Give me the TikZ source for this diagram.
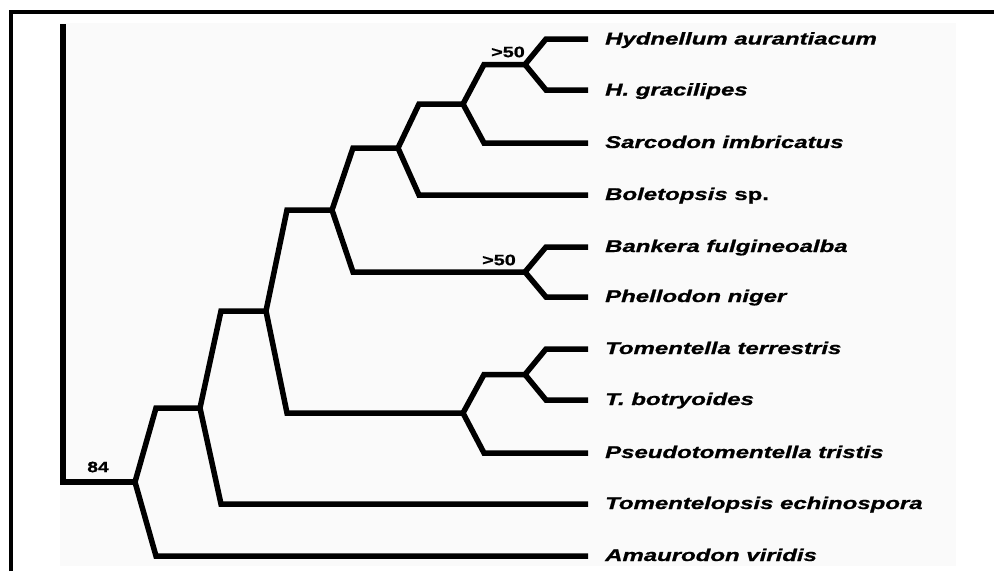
\documentclass[tikz,border=0pt]{standalone}
\usepackage{fontspec}
\setmainfont{Liberation Sans}
\newfontfamily\heavysans{Liberation Sans}[BoldFeatures={FakeBold=0.8},BoldItalicFeatures={FakeBold=0.8}]
\usetikzlibrary{calc}
\definecolor{panel}{HTML}{FAFAFA}
\tikzset{
  every picture/.style={line join=miter, line cap=butt},
  branch/.style={line width=5.5pt},
  frame/.style={line width=4pt},
  taxon/.style={anchor=base west, inner sep=0pt, font=\heavysans\fontsize{17}{20}\selectfont\bfseries\itshape},
  boot/.style={inner sep=0pt, font=\heavysans\fontsize{15}{17}\selectfont\bfseries},
}
\newcommand{\wide}[2][1.41]{\scalebox{#1}[1]{#2}}
% vertex #1 joins the children #2 (upper) and #3 (lower)
\newcommand{\clade}[3]{\draw[branch] let \p1=(#1),\p2=(#2),\p3=(#3) in
  (\x2,\y2) -- (\x1+21pt,\y2) -- (\x1,\y1) -- (\x1+21pt,\y3) -- (\x3,\y3);}

\begin{document}
\begin{tikzpicture}[x=1pt,y=-1pt]
\useasboundingbox (0,0) rectangle (994,571);
\fill[panel] (60,23) rectangle (956,566);
\draw[frame] (11,571) -- (11,11.5) -- (994,11.5);

% tips
\coordinate (l1) at (588,39);
\coordinate (l2) at (588,90);
\coordinate (l3) at (588,143);
\coordinate (l4) at (588,195);
\coordinate (l5) at (588,247);
\coordinate (l6) at (588,297);
\coordinate (l7) at (588,349);
\coordinate (l8) at (588,400);
\coordinate (l9) at (588,453);
\coordinate (l10) at (588,504);
\coordinate (l11) at (588,556);
\node[taxon] (t1) at (605,44.5) {\wide{Hydnellum aurantiacum}};
\node[taxon] (t2) at (605,95.5) {\wide{H. gracilipes}};
\node[taxon] (t3) at (605,148) {\wide{Sarcodon imbricatus}};
\node[taxon] (t4) at (605,200) {\wide{Boletopsis \upshape sp.}};
\node[taxon] (t5) at (605,252) {\wide{Bankera fulgineoalba}};
\node[taxon] (t6) at (605,302) {\wide{Phellodon niger}};
\node[taxon] (t7) at (605,354) {\wide{Tomentella terrestris}};
\node[taxon] (t8) at (605,405) {\wide{T. botryoides}};
\node[taxon] (t9) at (605,458) {\wide{Pseudotomentella tristis}};
\node[taxon] (t10) at (605,509) {\wide{Tomentelopsis echinospora}};
\node[taxon] (t11) at (605,561) {\wide{Amaurodon viridis}};

% internal vertices
\coordinate (hyd) at (525,64.5);
\coordinate (sar) at (463,104);
\coordinate (bol) at (398,148);
\coordinate (ban) at (525,272);
\coordinate (the) at (332,210);
\coordinate (tom) at (525,374.5);
\coordinate (pse) at (463,413);
\coordinate (clb) at (266,311);
\coordinate (tep) at (200,408);
\coordinate (ama) at (135,482);
\coordinate (root) at (63,482);
\coordinate (top) at (63,24);

\clade{hyd}{l1}{l2}
\clade{sar}{hyd}{l3}
\clade{bol}{sar}{l4}
\clade{ban}{l5}{l6}
\clade{the}{bol}{ban}
\clade{tom}{l7}{l8}
\clade{pse}{tom}{l9}
\clade{clb}{the}{pse}
\clade{tep}{clb}{l10}
\clade{ama}{tep}{l11}
\draw[branch] (top) -- (root) -- (ama);

\node[boot] (b1) at (508,52) {\wide[1.32]{>50}};
\node[boot] (b2) at (499,260) {\wide[1.32]{>50}};
\node[boot] (b3) at (98,467) {\wide[1.28]{84}};
\end{tikzpicture}
\end{document}
